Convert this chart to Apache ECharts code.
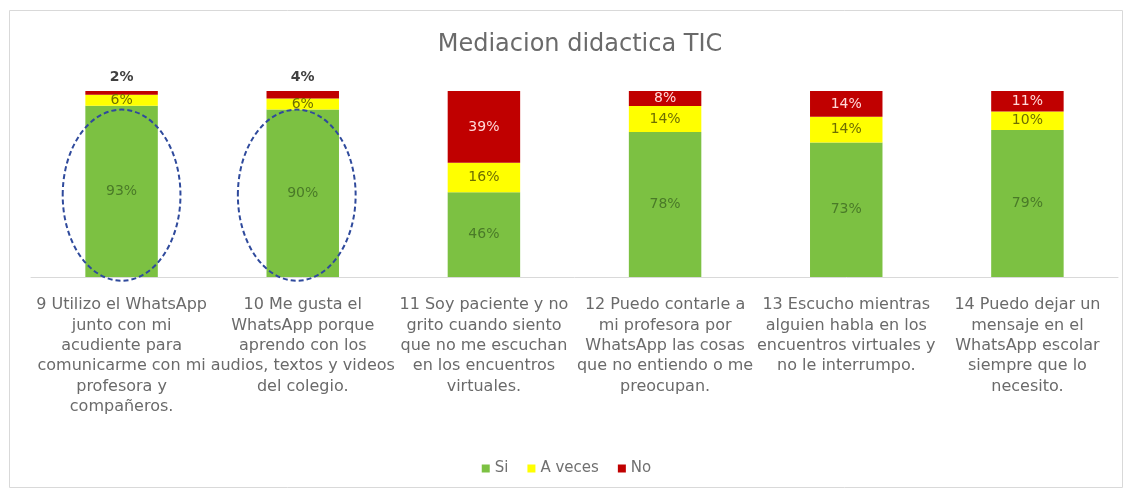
<!DOCTYPE html>
<html>
<head>
<meta charset="utf-8">
<script src="https://cdn.jsdelivr.net/npm/echarts@6/dist/echarts.min.js"></script>
<style>
html,body{margin:0;padding:0;background:#fff;}
#c{width:1133px;height:495px;}
</style>
</head>
<body>
<div id="c"></div>
<script>
const categories = [
  "9 Utilizo el WhatsApp\njunto con mi\nacudiente para\ncomunicarme con mi\nprofesora y\ncompañeros.",
  "10 Me gusta el\nWhatsApp porque\naprendo con los\naudios, textos y videos\ndel colegio.",
  "11 Soy paciente y no\ngrito cuando siento\nque no me escuchan\nen los encuentros\nvirtuales.",
  "12 Puedo contarle a\nmi profesora por\nWhatsApp las cosas\nque no entiendo o me\npreocupan.",
  "13 Escucho mientras\nalguien habla en los\nencuentros virtuales y\nno le interrumpo.",
  "14 Puedo dejar un\nmensaje en el\nWhatsApp escolar\nsiempre que lo\nnecesito."
];
const si = [93, 90, 46, 78, 73, 79];
const aVeces = [6, 6, 16, 14, 14, 10];
const no = [2, 4, 39, 8, 14, 11];
const seriesNames = ["Si", "A veces", "No"];
const highlighted = [0, 1];

const FONT = "'DejaVu Sans', Verdana, sans-serif";
const raw = [si, aVeces, no];
const totals = si.map((v, i) => si[i] + aVeces[i] + no[i]);
const colors = ["#7CC142", "#FFFF00", "#C00000"];
const labelColors = ["#4a7a28", "#6e6e00", "#ffd8d8"];

const chart = echarts.init(document.getElementById('c'), null, {renderer: 'canvas'});

const series = raw.map((arr, s) => ({
  name: seriesNames[s],
  type: 'bar',
  stack: 'total',
  barWidth: '40%',
  itemStyle: {color: colors[s]},
  data: arr.map((v, i) => {
    const d = {value: v / totals[i] * 100, raw: v};
    if (s === 2 && v < 5) {
      d.label = {position: 'top', color: '#404040', fontWeight: 'bold', distance: 7};
    }
    return d;
  }),
  label: {
    show: true,
    position: 'inside',
    fontFamily: FONT,
    fontSize: 14,
    color: labelColors[s],
    formatter: p => p.data.raw + '%'
  }
}));

chart.setOption({
  animation: false,
  textStyle: {fontFamily: FONT},
  title: {
    text: 'Mediacion didactica TIC',
    left: 575,
    textAlign: 'center',
    top: 28,
    textStyle: {fontFamily: FONT, fontSize: 24, fontWeight: 'normal', color: '#6a6a6a'}
  },
  legend: {
    data: seriesNames,
    left: 'center',
    top: 456,
    icon: 'rect',
    itemWidth: 8,
    itemHeight: 8,
    itemGap: 19,
    textStyle: {fontFamily: FONT, fontSize: 15, color: '#707070'}
  },
  grid: {left: 31, right: 15, top: 91, bottom: 218, containLabel: false},
  xAxis: {
    type: 'category',
    data: categories,
    axisLine: {lineStyle: {color: '#d9d9d9'}},
    axisTick: {show: false},
    axisLabel: {
      interval: 0,
      color: '#6a6a6a',
      fontFamily: FONT,
      fontSize: 16,
      lineHeight: 20.3,
      margin: 18,
      align: 'center'
    }
  },
  yAxis: {type: 'value', min: 0, max: 100, show: false, splitLine: {show: false}},
  series: series
});

// annotation ellipses and outer frame
const p0 = chart.convertToPixel({gridIndex: 0}, [0, 0]);
const p1 = chart.convertToPixel({gridIndex: 0}, [1, 0]);
const catW = p1[0] - p0[0];
const graphics = [{
  type: 'rect',
  shape: {x: 9.5, y: 10.5, width: 1113, height: 477},
  style: {fill: 'none', stroke: '#d9d9d9', lineWidth: 1},
  silent: true
}];
highlighted.forEach(i => {
  const top = chart.convertToPixel({gridIndex: 0}, [i, 90]);
  const bot = chart.convertToPixel({gridIndex: 0}, [i, -2]);
  graphics.push({
    type: 'ellipse',
    shape: {cx: top[0] - 6 * i, cy: (top[1] + bot[1]) / 2, rx: catW * 0.325, ry: (bot[1] - top[1]) / 2},
    style: {fill: 'none', stroke: '#2f4a9c', lineWidth: 2, lineDash: [5, 3]},
    z: 10,
    silent: true
  });
});
chart.setOption({graphic: graphics});
</script>
</body>
</html>
